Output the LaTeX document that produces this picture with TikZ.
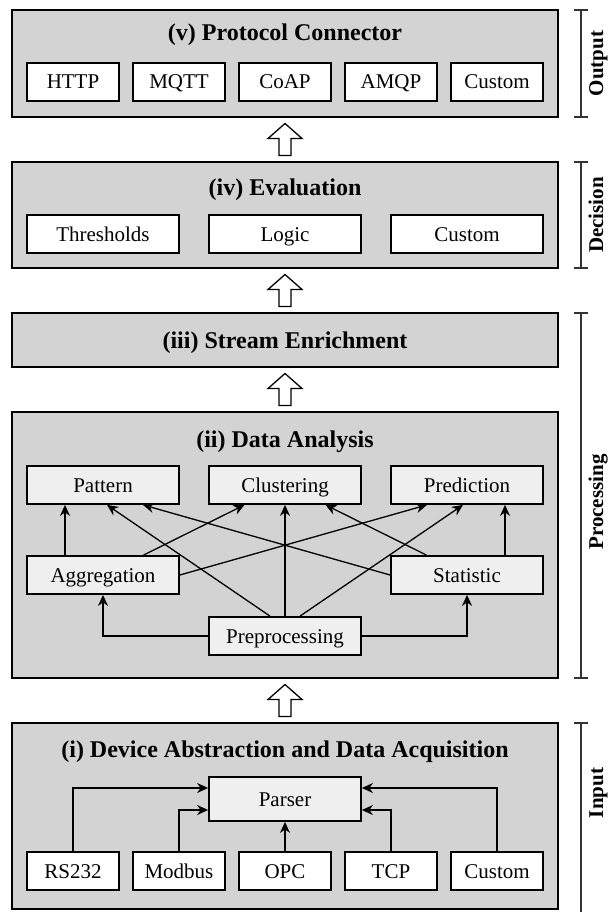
\documentclass[tikz,border=0pt]{standalone}
\usepackage{fontspec}
\setmainfont{Liberation Serif}
\usetikzlibrary{arrows.meta}
\definecolor{layergray}{HTML}{D3D3D3}
\definecolor{modgray}{HTML}{EFEFEF}
\begin{document}
\begin{tikzpicture}[x=1pt,y=-1pt,
  layer/.style={draw=black, line width=2pt, fill=layergray, inner sep=0pt, minimum width=546pt},
  title/.style={font=\fontsize{24}{28}\selectfont\bfseries, inner sep=0pt,
    text height=16pt, text depth=0pt},
  wbox/.style={draw=black, line width=1.8pt, fill=white, inner sep=0pt, minimum height=38pt,
    font=\fontsize{21}{24}\selectfont, text height=14pt, text depth=0pt},
  gbox/.style={wbox, fill=modgray},
  flow/.style={line width=1.3pt, -{Stealth[length=11pt,width=10pt,inset=3.5pt]}},
  bracket/.style={line width=1.2pt, draw=black!80},
  side/.style={font=\fontsize{21}{25}\selectfont\bfseries, rotate=90, inner sep=0pt,
    text height=14pt, text depth=0pt},
  uparrow/.pic={\draw[line width=1.3pt, fill=white]
      (-6,16) -- (-6,-1) -- (-17,-1) -- (0,-16) -- (17,-1) -- (6,-1) -- (6,16) -- cycle;}
]
\useasboundingbox (0,0) rectangle (609,912);

% ---- (v) protocol connector ----
\node[layer, minimum height=107pt] (lv) at (285,63.5) {};
\node[title] (tv) at (285,33) {(v) Protocol Connector};
\node[wbox, minimum width=92pt] (http) at (73,82) {HTTP};
\node[wbox, minimum width=92pt] (mqtt) at (179,82) {MQTT};
\node[wbox, minimum width=92pt] (coap) at (285,82) {CoAP};
\node[wbox, minimum width=92pt] (amqp) at (391,82) {AMQP};
\node[wbox, minimum width=92pt] (pcus) at (497,82) {Custom};

% ---- (iv) evaluation ----
\node[layer, minimum height=106pt] (liv) at (285,215) {};
\node[title] (tiv) at (285,187.5) {(iv) Evaluation};
\node[wbox, minimum width=152pt] (thr) at (103,234) {Thresholds};
\node[wbox, minimum width=152pt] (logic) at (285,234) {Logic};
\node[wbox, minimum width=152pt] (ecus) at (467,234) {Custom};

% ---- (iii) stream enrichment ----
\node[layer, minimum height=54pt] (liii) at (285,340) {};
\node[title] (tiii) at (285,340) {(iii) Stream Enrichment};

% ---- (ii) data analysis ----
\node[layer, minimum height=266pt] (lii) at (285,545) {};
\node[title] (tii) at (285,439) {(ii) Data Analysis};
\node[gbox, minimum width=152pt] (pat) at (103,485) {Pattern};
\node[gbox, minimum width=152pt] (clu) at (285,485) {Clustering};
\node[gbox, minimum width=152pt] (pred) at (467,485) {Prediction};
\node[gbox, minimum width=152pt] (agg) at (103,575) {Aggregation};
\node[gbox, minimum width=152pt] (stat) at (467,575) {Statistic};
\node[gbox, minimum width=152pt] (pre) at (285,636) {Preprocessing};

\draw[flow] ([xshift=-38pt]agg.north) -- ([xshift=-38pt]pat.south);
\draw[flow] ([xshift=40.5pt]agg.north) -- ([xshift=-40.5pt]clu.south);
\draw[flow] (agg.east) -- ([xshift=-40pt]pred.south);
\draw[flow] ([xshift=-15pt]pre.north) -- ([xshift=4pt]pat.south);
\draw[flow] (pre.north) -- (clu.south);
\draw[flow] ([xshift=15pt]pre.north) -- ([xshift=-4pt]pred.south);
\draw[flow] (stat.west) -- ([xshift=40pt]pat.south);
\draw[flow] ([xshift=-40.5pt]stat.north) -- ([xshift=40.5pt]clu.south);
\draw[flow] ([xshift=38pt]stat.north) -- ([xshift=38pt]pred.south);
\draw[flow] (pre.west) -| (agg.south);
\draw[flow] (pre.east) -| (stat.south);

% ---- (i) device abstraction ----
\node[layer, minimum height=186pt] (li) at (285,816) {};
\node[title] (ti) at (285,749) {(i) Device Abstraction and Data Acquisition};
\node[gbox, minimum width=152pt, minimum height=44pt] (parser) at (285,799) {Parser};
\node[wbox, minimum width=92pt] (rs) at (73,871) {RS232};
\node[wbox, minimum width=92pt] (mod) at (179,871) {Modbus};
\node[wbox, minimum width=92pt] (opc) at (285,871) {OPC};
\node[wbox, minimum width=92pt] (tcp) at (391,871) {TCP};
\node[wbox, minimum width=92pt] (dcus) at (497,871) {Custom};

\draw[flow] (rs.north) |- ([yshift=11pt]parser.west);
\draw[flow] (mod.north) |- ([yshift=-11pt]parser.west);
\draw[flow] (opc.north) -- (parser.south);
\draw[flow] (tcp.north) |- ([yshift=-11pt]parser.east);
\draw[flow] (dcus.north) |- ([yshift=11pt]parser.east);

% ---- hollow arrows between layers ----
\pic at (285,139.5) {uparrow};
\pic at (285,290.5) {uparrow};
\pic at (285,389.5) {uparrow};
\pic at (285,700.5) {uparrow};

% ---- side brackets ----
\draw[bracket] (581,10) -- (581,117) (574,10) -- (588,10) (574,117) -- (588,117);
\node[side] (sout) at (596,63.5) {Output};
\draw[bracket] (581,162) -- (581,268) (574,162) -- (588,162) (574,268) -- (588,268);
\node[side] (sdec) at (596,215) {Decision};
\draw[bracket] (581,313) -- (581,678) (574,313) -- (588,313) (574,678) -- (588,678);
\node[side] (sproc) at (596,502) {Processing};
\draw[bracket] (581,723) -- (581,912) (574,723) -- (588,723);
\node[side] (sin) at (596,793) {Input};
\end{tikzpicture}
\end{document}
